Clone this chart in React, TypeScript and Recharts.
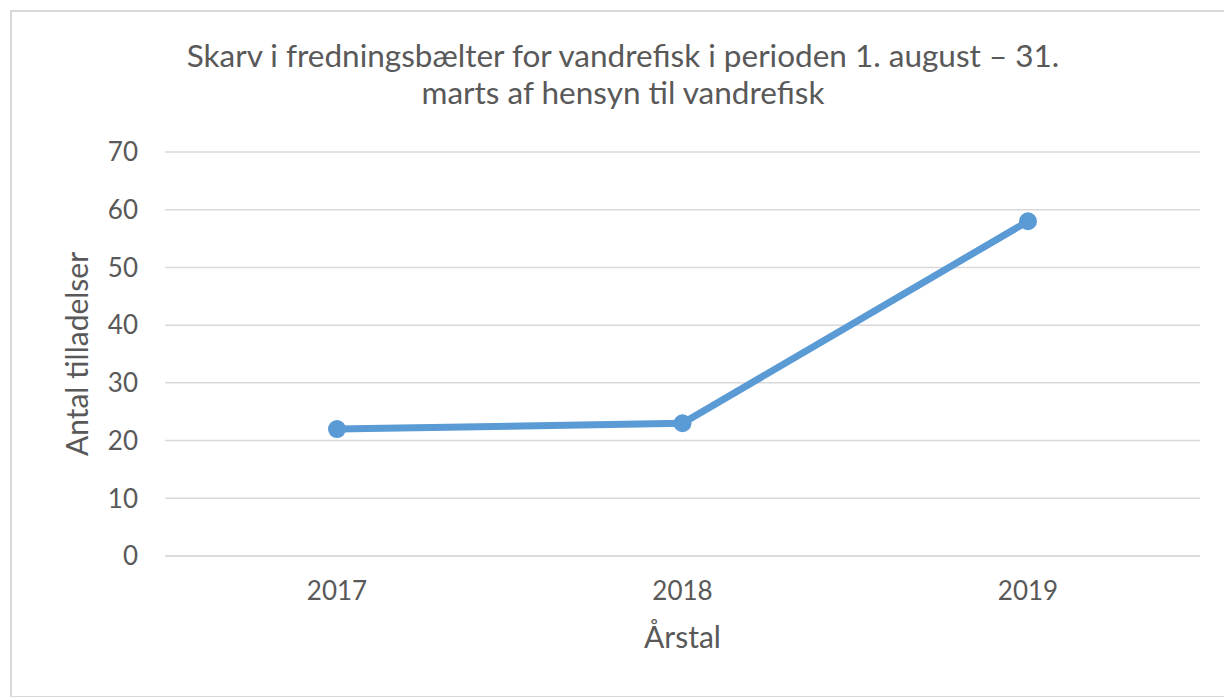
import React from 'react';
import { LineChart, Line, XAxis, YAxis, CartesianGrid } from "recharts";

// Values
const years = ["2017", "2018", "2019"];
const permits = [22, 23, 58];
const yTicks = [0, 10, 20, 30, 40, 50, 60, 70];

const data = years.map((year, i) => ({ year, permits: permits[i] }));

const font = "Lato, 'Open Sans', sans-serif";
const grey = "#595959";

const App = () => {
  return (
    <div style={{ position: "absolute", left: 0, top: 0, width: 1224, height: 697, background: "#fff", overflow: "hidden", fontFamily: font }}>
      {/* chart frame */}
      <div style={{ position: "absolute", left: 10, top: 10, width: 1240, height: 684, border: "2px solid #d9d9d9" }} />

      {/* Title */}
      <div style={{ position: "absolute", left: 0, top: 37, width: 1246, textAlign: "center", color: grey, fontSize: 31.5, lineHeight: "37px" }}>
        Skarv i fredningsbælter for vandrefisk i perioden 1. august – 31.<br />
        marts af hensyn til vandrefisk
      </div>

      <div style={{ position: "absolute", left: 0, top: 0 }}>
        <LineChart width={1224} height={697} data={data} margin={{ top: 152, right: 24, bottom: 111, left: 105 }}>
          <CartesianGrid vertical={false} stroke="#d9d9d9" strokeWidth={1.5} />
          <XAxis
            dataKey="year"
            padding={{ left: 172, right: 172 }}
            axisLine={{ stroke: "#d9d9d9", strokeWidth: 1.5 }}
            tickLine={false}
            tickSize={0}
            tickMargin={26}
            height={30}
            tick={{ fill: grey, fontSize: 26, fontFamily: font }}
            label={{ value: "Årstal", position: "insideBottom", offset: -62, fill: grey, fontSize: 30, fontFamily: font }}
          />
          <YAxis
            domain={[0, 70]}
            ticks={yTicks}
            axisLine={false}
            tickLine={false}
            tickSize={0}
            tickMargin={27}
            width={60}
            tick={{ fill: grey, fontSize: 26, fontFamily: font }}
            label={{ value: "Antal tilladelser", angle: -90, position: "insideLeft", offset: -28, fill: grey, fontSize: 30, fontFamily: font, style: { textAnchor: "middle" } }}
          />
          <Line
            type="linear"
            dataKey="permits"
            stroke="#5b9bd5"
            strokeWidth={7}
            dot={{ r: 9, fill: "#5b9bd5", stroke: "#5b9bd5", strokeWidth: 0 }}
            isAnimationActive={false}
          />
        </LineChart>
      </div>
    </div>
  );
};

export default App;
